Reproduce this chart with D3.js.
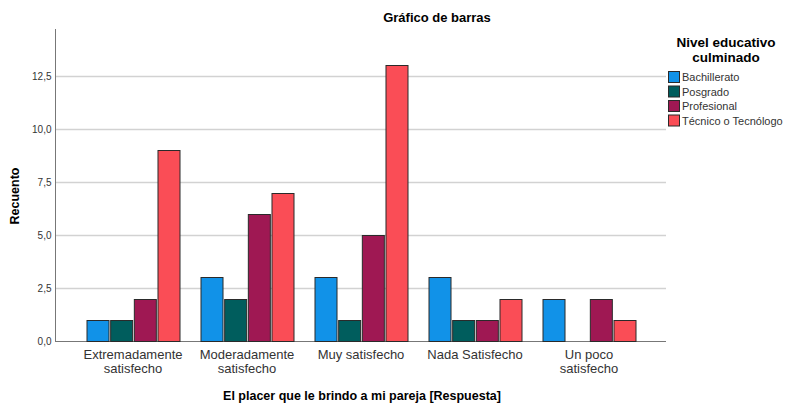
<!DOCTYPE html>
<html><head><meta charset="utf-8">
<script src="https://cdn.jsdelivr.net/npm/d3@7/dist/d3.min.js"></script>
<style>body{margin:0;background:#fff;font-family:"Liberation Sans",Arial,sans-serif;}</style>
</head><body><svg id="c" width="786" height="404"></svg>
<script>
const categories = [["Extremadamente","satisfecho"],["Moderadamente","satisfecho"],["Muy satisfecho"],["Nada Satisfecho"],["Un poco","satisfecho"]];
const seriesNames = ["Bachillerato","Posgrado","Profesional","Técnico o Tecnólogo"];
const bachillerato = [1,3,3,3,2];
const posgrado = [1,2,1,1,0];
const profesional = [2,6,5,1,2];
const tecnico = [9,7,13,2,1];
const yTicks = [0,2.5,5,7.5,10,12.5];
const colors = ["#1192E8","#005D5D","#9F1853","#FA4D56"];
const series = [bachillerato,posgrado,profesional,tecnico];

(function(){
const svg = d3.select("#c");
const pL=55, pR=666, pT=29, pB=341;
const y = d3.scaleLinear().domain([0,14.72]).range([pB,pT]);
const x0 = d3.scaleBand().domain(d3.range(categories.length)).range([76,646]);
const gw = 93;
const x1 = d3.scaleBand().domain(d3.range(series.length)).range([0,gw]).paddingInner(0.07);

// grid
svg.append("g").selectAll("line").data(yTicks.slice(1)).join("line")
  .attr("x1",pL).attr("x2",pR).attr("y1",d=>Math.round(y(d))+0.5).attr("y2",d=>Math.round(y(d))+0.5)
  .attr("stroke","#d2d2d2").attr("stroke-width",1.5);

// y axis
const ya = svg.append("g").attr("transform",`translate(${pL+0.5},0)`)
  .call(d3.axisLeft(y).tickValues(yTicks).tickSize(0).tickPadding(4).tickFormat(d=>d3.format(".1f")(d).replace(".",",")));
ya.select(".domain").remove();
ya.selectAll("text").attr("font-family","Liberation Sans, Arial, sans-serif").attr("font-size",10).attr("fill","#333");
svg.append("line").attr("x1",pL+0.5).attr("x2",pL+0.5).attr("y1",pT).attr("y2",pB).attr("stroke","#777");
svg.append("line").attr("x1",pL).attr("x2",pR).attr("y1",pB+0.5).attr("y2",pB+0.5).attr("stroke","#777");

// bars
categories.forEach((c,i)=>{
  const g = svg.append("g").attr("transform",`translate(${x0(i)+(x0.bandwidth()-gw)/2},0)`);
  series.forEach((s,j)=>{
    if(s[i]>0) g.append("rect").attr("x",x1(j)+0.5).attr("width",x1.bandwidth()).attr("y",Math.round(y(s[i]))+0.5)
      .attr("height",Math.round(y(0))-Math.round(y(s[i]))).attr("fill",colors[j]).attr("stroke","#2a2a2a").attr("stroke-width",1);
  });
});

// x labels
categories.forEach((c,i)=>{
  const t = svg.append("text").attr("x",x0(i)+x0.bandwidth()/2).attr("y",359).attr("text-anchor","middle")
    .attr("font-size",13).attr("fill","#333");
  c.forEach((l,k)=>t.append("tspan").attr("x",x0(i)+x0.bandwidth()/2).attr("dy",k?14:0).text(l));
});

// titles
svg.append("text").attr("x",437).attr("y",22).attr("text-anchor","middle").attr("font-weight","bold").attr("font-size",13).text("Gráfico de barras");
svg.append("text").attr("x",362).attr("y",400).attr("text-anchor","middle").attr("font-weight","bold").attr("font-size",12.5).text("El placer que le brindo a mi pareja [Respuesta]");
svg.append("text").attr("transform","translate(19,196) rotate(-90)").attr("text-anchor","middle").attr("font-weight","bold").attr("font-size",12.5).text("Recuento");

// legend
const lt = svg.append("text").attr("text-anchor","middle").attr("font-weight","bold").attr("font-size",13.5);
lt.append("tspan").attr("x",726).attr("y",47).text("Nivel educativo");
lt.append("tspan").attr("x",726).attr("y",62).text("culminado");
seriesNames.forEach((n,j)=>{
  const yy = 71+j*14.5;
  svg.append("rect").attr("x",668.5).attr("y",yy+0.5).attr("width",11).attr("height",11).attr("fill",colors[j]).attr("stroke","#2a2a2a");
  svg.append("text").attr("x",682).attr("y",yy+10).attr("font-size",11).attr("fill","#333").text(n);
});
})();
</script></body></html>
